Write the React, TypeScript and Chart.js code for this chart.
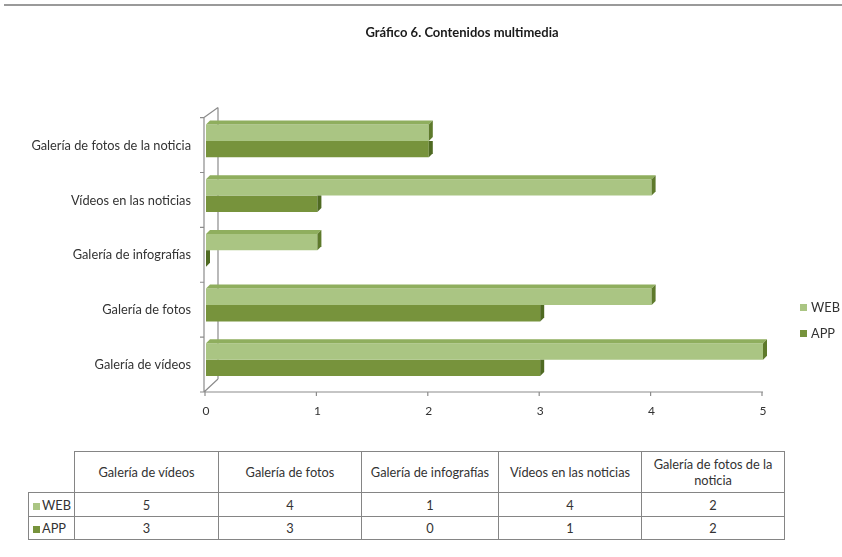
import React, { useEffect, useRef } from "react";
import { Chart, registerables } from "chart.js";

Chart.register(...registerables);

const TITLE = "Gráfico 6. Contenidos multimedia";
const categories = [
  "Galería de vídeos",
  "Galería de fotos",
  "Galería de infografías",
  "Vídeos en las noticias",
  "Galería de fotos de la noticia",
];
const seriesNames = ["WEB", "APP"];
const webValues = [5, 4, 1, 4, 2];
const appValues = [3, 3, 0, 1, 2];
const xTicks = [0, 1, 2, 3, 4, 5];

const WEB_COLOR = "#AAC583";
const APP_COLOR = "#77933C";
const WEB_TOP = "#8FAE5E";
const WEB_SIDE = "#5E7A2C";
const APP_SIDE = "#4F6A22";
const FONT = "Lato, 'Open Sans', sans-serif";
const TEXT = "#333333";
const AXIS = "#8C8C8C";

const frame3d = {
  id: "frame3d",
  beforeDatasetsDraw(chart: any) {
    const { ctx, chartArea } = chart;
    const xs = chart.scales.x;
    const L = chartArea.left - 2;
    const T = chartArea.top + 4;
    const B = chartArea.bottom + 5;
    const dx = 14;
    const dy = 13;
    ctx.save();
    ctx.strokeStyle = AXIS;
    ctx.lineWidth = 1.2;
    ctx.beginPath();
    ctx.moveTo(L, T);
    ctx.lineTo(L, B);
    ctx.lineTo(xs.getPixelForValue(xTicks[xTicks.length - 1]), B);
    ctx.moveTo(L + dx, T - 10);
    ctx.lineTo(L + dx, B - dy);
    ctx.moveTo(L, T);
    ctx.lineTo(L + dx, T - 10);
    ctx.moveTo(L, B);
    ctx.lineTo(L + dx, B - dy);
    const n = categories.length;
    for (let i = 0; i <= n; i++) {
      const y = T + ((B - T) * i) / n;
      ctx.moveTo(L - 4, y);
      ctx.lineTo(L, y);
    }
    for (const v of xTicks) {
      const x = xs.getPixelForValue(v) - 1;
      ctx.moveTo(x, B);
      ctx.lineTo(x, B + 4);
    }
    ctx.stroke();
    ctx.restore();
  },
  afterDatasetsDraw(chart: any) {
    const { ctx } = chart;
    const d = 4;
    ctx.save();
    const appMeta = chart.getDatasetMeta(1);
    appMeta.data.forEach((el: any) => {
      const top = el.y - el.height / 2;
      const bot = el.y + el.height / 2;
      ctx.fillStyle = APP_SIDE;
      ctx.beginPath();
      ctx.moveTo(el.x, top);
      ctx.lineTo(el.x + d, top);
      ctx.lineTo(el.x + d, bot - d);
      ctx.lineTo(el.x, bot);
      ctx.closePath();
      ctx.fill();
    });
    const webMeta = chart.getDatasetMeta(0);
    webMeta.data.forEach((el: any) => {
      const top = el.y - el.height / 2;
      const bot = el.y + el.height / 2;
      ctx.fillStyle = WEB_TOP;
      ctx.beginPath();
      ctx.moveTo(el.base, top);
      ctx.lineTo(el.x, top);
      ctx.lineTo(el.x + d, top - d);
      ctx.lineTo(el.base + d, top - d);
      ctx.closePath();
      ctx.fill();
      ctx.fillStyle = WEB_SIDE;
      ctx.beginPath();
      ctx.moveTo(el.x, top);
      ctx.lineTo(el.x + d, top - d);
      ctx.lineTo(el.x + d, bot - d);
      ctx.lineTo(el.x, bot);
      ctx.closePath();
      ctx.fill();
    });
    ctx.restore();
  },
};

// Canvas is wider than the page so that the centred title lands where the reference has it.
const CANVAS_W = 924;
const CANVAS_H = 430;
const PLOT_LEFT = 206;
const PLOT_RIGHT = 763;
const PLOT_BOTTOM = 387;

function ChartCanvas() {
  const ref = useRef<HTMLCanvasElement | null>(null);
  useEffect(() => {
    if (!ref.current) return;
    const labels = [...categories].reverse();
    const chart = new Chart(ref.current, {
      type: "bar",
      data: {
        labels,
        datasets: [
          {
            label: seriesNames[0],
            data: [...webValues].reverse(),
            backgroundColor: WEB_COLOR,
            categoryPercentage: 0.6,
            barPercentage: 1,
          },
          {
            label: seriesNames[1],
            data: [...appValues].reverse(),
            backgroundColor: APP_COLOR,
            categoryPercentage: 0.6,
            barPercentage: 1,
          },
        ],
      },
      options: {
        indexAxis: "y",
        animation: false,
        responsive: false,
        devicePixelRatio: 1,
        layout: { padding: 0 },
        plugins: {
          legend: { display: false },
          tooltip: { enabled: false },
          title: {
            display: true,
            text: TITLE,
            color: "#1a1a1a",
            font: { family: FONT, size: 13, weight: "bold" },
            padding: { top: 25, bottom: 73 },
          },
        },
        scales: {
          x: {
            min: 0,
            max: 5,
            afterFit: (s: any) => {
              s.height = CANVAS_H - PLOT_BOTTOM;
            },
            grid: { display: false, drawTicks: false },
            border: { display: false },
            ticks: {
              stepSize: 1,
              padding: 17,
              color: TEXT,
              font: { family: FONT, size: 12 },
            },
          },
          y: {
            afterFit: (s: any) => {
              s.width = PLOT_LEFT;
            },
            grid: { display: false, drawTicks: false },
            border: { display: false },
            ticks: {
              padding: 15,
              labelOffset: 5,
              color: TEXT,
              font: { family: FONT, size: 12.8 },
            },
          },
          spacer: {
            type: "linear",
            position: "right",
            afterFit: (s: any) => {
              s.width = CANVAS_W - PLOT_RIGHT;
            },
            grid: { display: false, drawTicks: false },
            border: { display: false },
            ticks: { display: false },
          },
        },
      },
      plugins: [frame3d],
    });
    return () => chart.destroy();
  }, []);
  return (
    <canvas
      ref={ref}
      width={CANVAS_W}
      height={CANVAS_H}
      style={{ position: "absolute", left: 0, top: 0, width: CANVAS_W, height: CANVAS_H }}
    />
  );
}

const colW = [46, 144, 143, 137, 143, 143];
const rowH = [41, 24, 23];

export default function App() {
  const cell: React.CSSProperties = {
    border: "1px solid #858585",
    padding: 0,
    textAlign: "center",
    color: TEXT,
    fontFamily: FONT,
    fontSize: 12.8,
  };
  const rows = [
    { name: seriesNames[0], color: WEB_COLOR, values: webValues },
    { name: seriesNames[1], color: APP_COLOR, values: appValues },
  ];
  return (
    <div
      style={{
        position: "fixed",
        left: 0,
        top: 0,
        width: 842,
        height: 557,
        overflow: "hidden",
        background: "#fff",
      }}
    >
      <div
        style={{
          position: "absolute",
          left: 4,
          top: 4,
          width: 838,
          height: 0,
          borderTop: "2px solid #9a9a9a",
        }}
      />
      <ChartCanvas />
      {rows.map((r, i) => (
        <div
          key={r.name}
          style={{
            position: "absolute",
            left: 800,
            top: 300 + i * 26,
            height: 14,
            display: "flex",
            alignItems: "center",
            fontFamily: FONT,
            fontSize: 12.8,
            color: TEXT,
          }}
        >
          <span
            style={{ width: 7, height: 7, background: r.color, marginRight: 4, display: "inline-block" }}
          />
          {r.name}
        </div>
      ))}
      <table
        style={{
          position: "absolute",
          left: 28,
          top: 451,
          borderCollapse: "collapse",
          tableLayout: "fixed",
          width: colW.reduce((a, b) => a + b, 0),
        }}
      >
        <colgroup>
          {colW.map((w, i) => (
            <col key={i} style={{ width: w }} />
          ))}
        </colgroup>
        <tbody>
          <tr style={{ height: rowH[0] }}>
            <td style={{ ...cell, borderTop: "none", borderLeft: "none" }} />
            {categories.map((c) => (
              <td key={c} style={{ ...cell, lineHeight: "16px", padding: "0 6px" }}>
                {c}
              </td>
            ))}
          </tr>
          {rows.map((r, ri) => (
            <tr key={r.name} style={{ height: rowH[ri + 1] }}>
              <td style={{ ...cell, textAlign: "left", paddingLeft: 4 }}>
                <span
                  style={{
                    display: "inline-block",
                    width: 7,
                    height: 7,
                    background: r.color,
                    marginRight: 2,
                  }}
                />
                {r.name}
              </td>
              {r.values.map((v, j) => (
                <td key={j} style={cell}>
                  {v}
                </td>
              ))}
            </tr>
          ))}
        </tbody>
      </table>
    </div>
  );
}
